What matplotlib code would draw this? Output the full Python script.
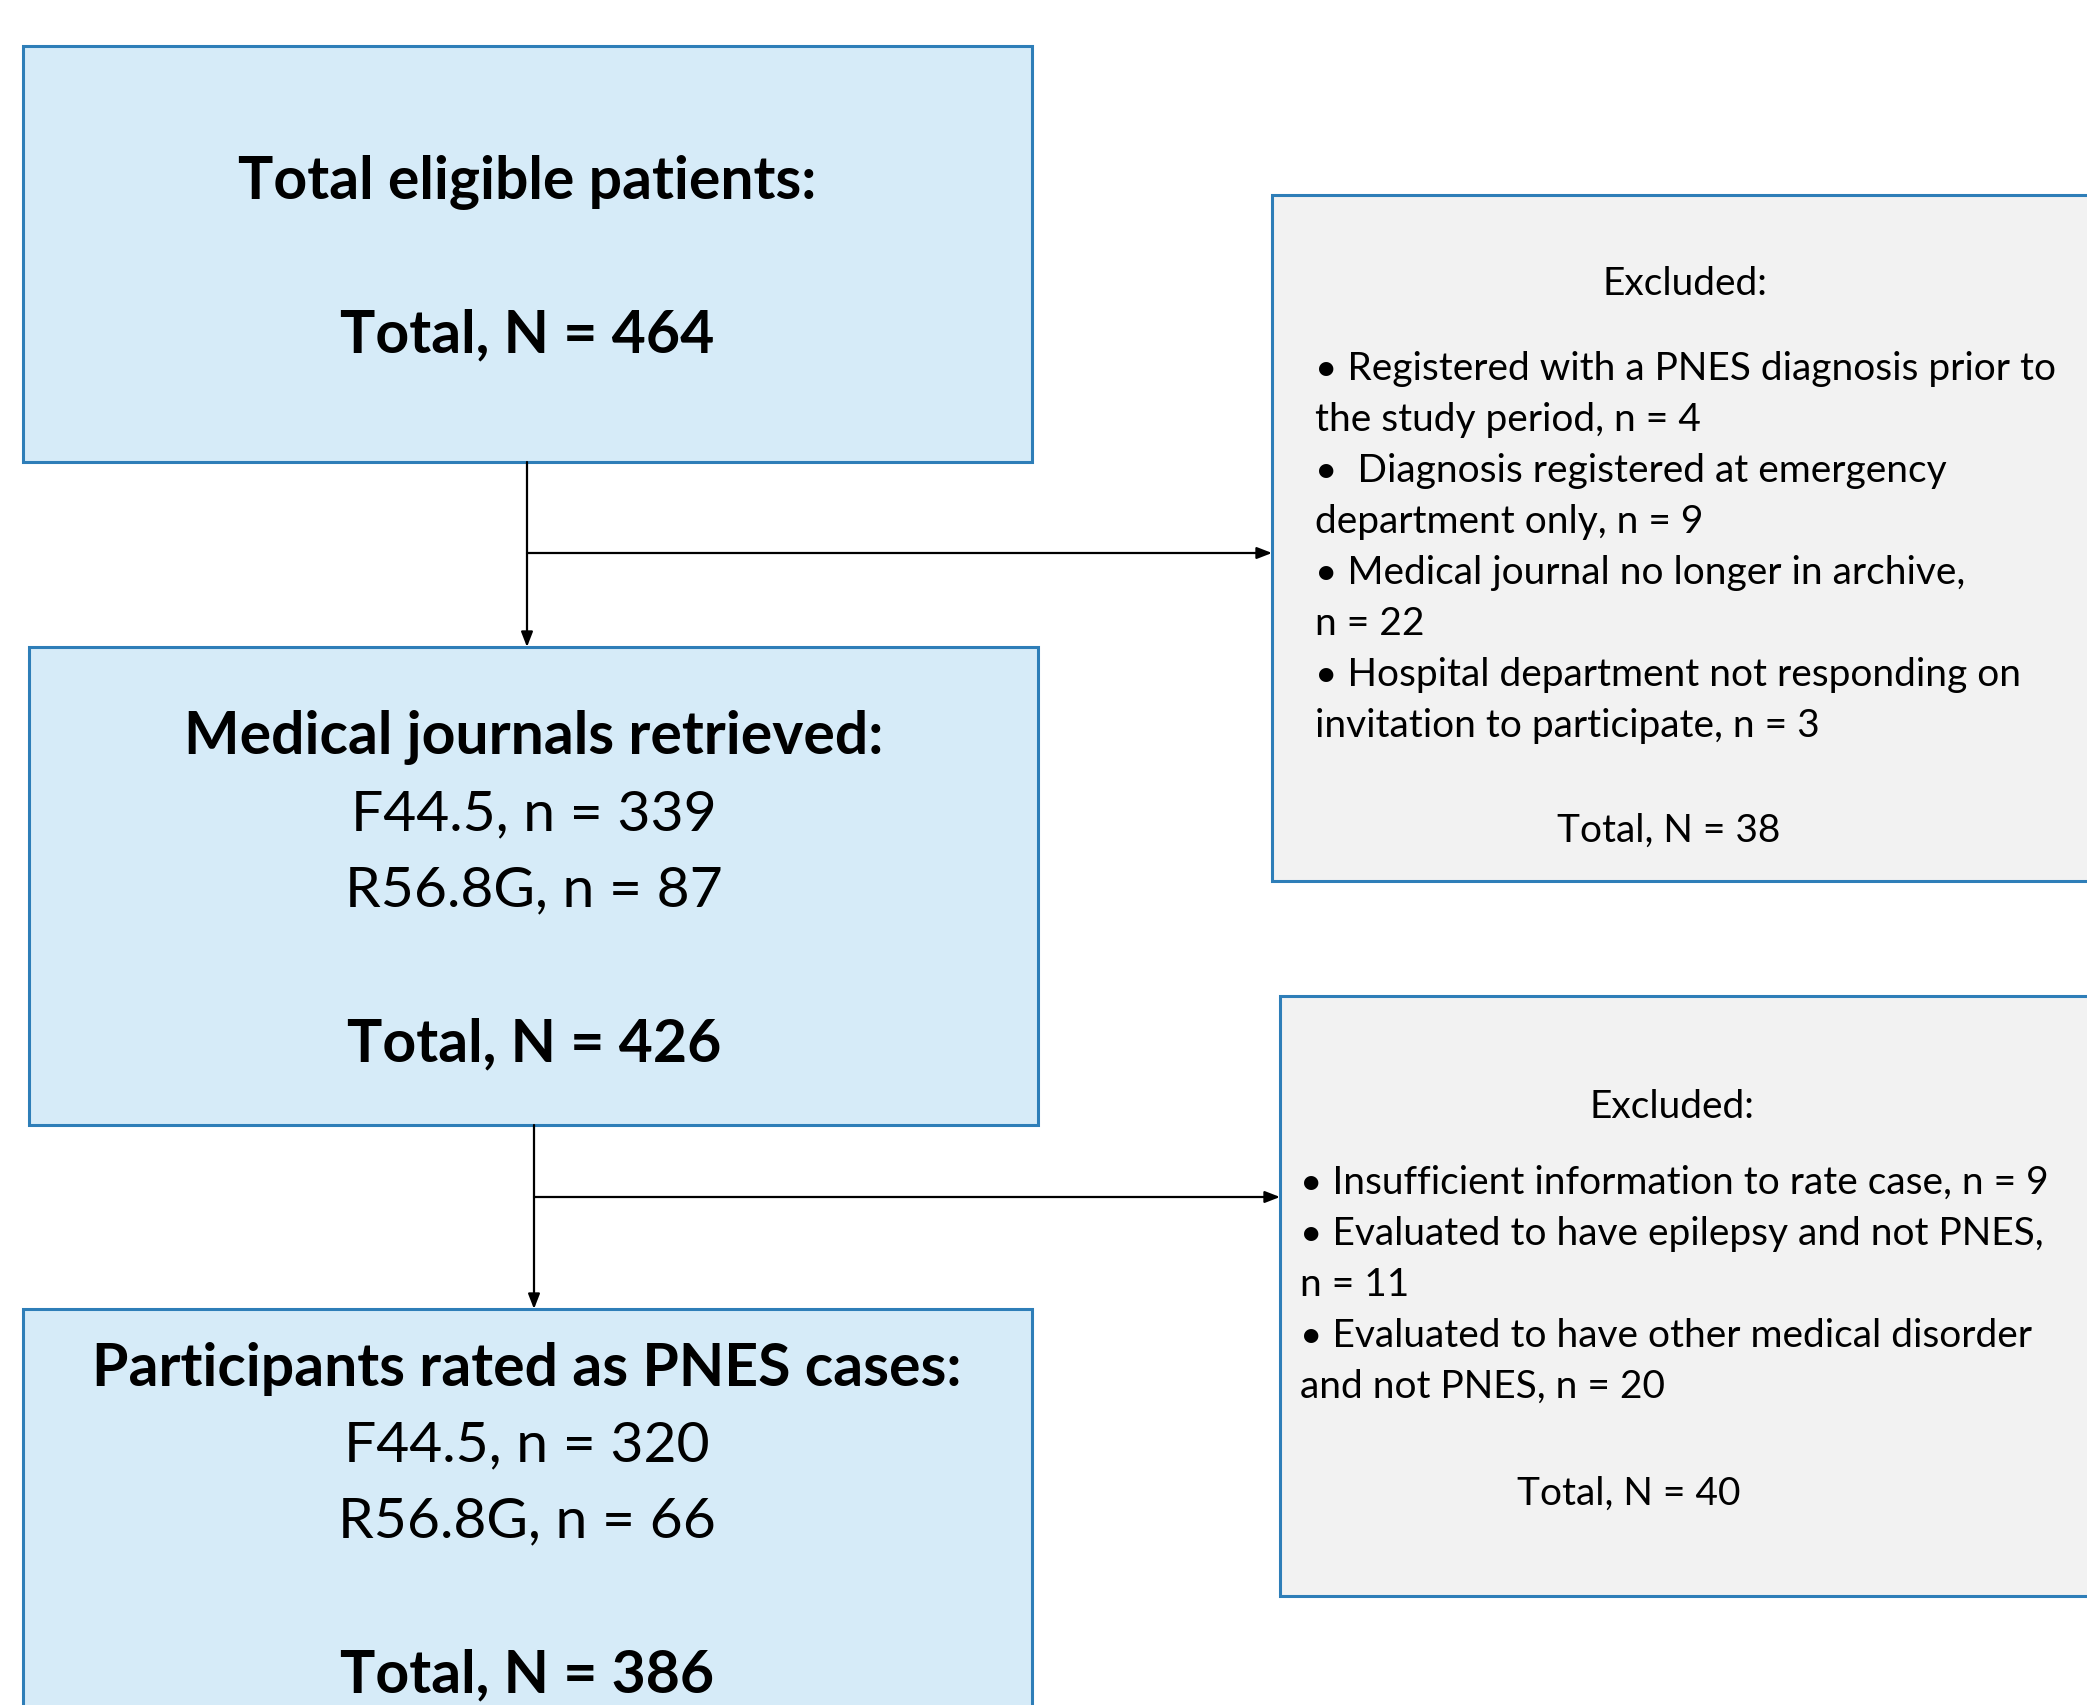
import matplotlib.pyplot as plt
import matplotlib.patches as mpatches

# ---- data -------------------------------------------------------------------
eligible_total = 464

retrieved_codes = ["F44.5", "R56.8G"]
retrieved_n = [339, 87]
retrieved_total = 426

excl1_reasons = [
    ["\u2022 Registered with a PNES diagnosis prior to", "the study period, n = 4"],
    ["\u2022  Diagnosis registered at emergency", "department only, n = 9"],
    ["\u2022 Medical journal no longer in archive,", "n = 22"],
    ["\u2022 Hospital department not responding on", "invitation to participate, n = 3"],
]
excl1_total = 38

cases_codes = ["F44.5", "R56.8G"]
cases_n = [320, 66]
cases_total = 386

excl2_reasons = [
    ["\u2022 Insufficient information to rate case, n = 9"],
    ["\u2022 Evaluated to have epilepsy and not PNES,", "n = 11"],
    ["\u2022 Evaluated to have other medical disorder", "and not PNES, n = 20"],
]
excl2_total = 40

# ---- style ------------------------------------------------------------------
W, H = 2087, 1706
BLUE_FILL = "#d6ebf8"
GREY_FILL = "#f2f2f2"
EDGE = "#2e7eb8"
FONT = "Lato"
BIG_B = 42.4   # bold headings / totals
BIG_R = 41     # code lines in main boxes
SMALL = 28

plt.rcParams["font.family"] = [FONT, "DejaVu Sans"]

fig = plt.figure(figsize=(W / 100, H / 100), dpi=100)
ax = fig.add_axes([0, 0, 1, 1])
ax.set_xlim(0, W)
ax.set_ylim(H, 0)
ax.axis("off")


def box(x0, y0, x1, y1, fill):
    ax.add_patch(mpatches.Rectangle((x0, y0), x1 - x0, y1 - y0, facecolor=fill,
                                    edgecolor=EDGE, linewidth=2.2, zorder=1))


def arrow(x0, y0, x1, y1):
    ax.annotate("", xy=(x1, y1), xytext=(x0, y0),
                arrowprops=dict(arrowstyle="-|>,head_length=0.9,head_width=0.35",
                                color="black", lw=1.6, shrinkA=0, shrinkB=0),
                zorder=3)


# main boxes
box(23, 47, 1032, 463, BLUE_FILL)
box(29, 648, 1038, 1126, BLUE_FILL)
box(23, 1310, 1032, 1760, BLUE_FILL)
# exclusion boxes
box(1272, 196, 2120, 882, GREY_FILL)
box(1280, 997, 2120, 1597, GREY_FILL)

# connectors
arrow(527, 463, 527, 648)
arrow(527, 554, 1272, 554)
arrow(534, 1126, 534, 1310)
arrow(534, 1198, 1280, 1198)

# box 1
ax.text(527, 182, "Total eligible patients:", ha="center", va="center",
        fontsize=BIG_B, fontweight="bold")
ax.text(527, 335, f"Total, N = {eligible_total}", ha="center", va="center",
        fontsize=BIG_B, fontweight="bold")

# box 2
ax.text(534, 737, "Medical journals retrieved:", ha="center", va="center",
        fontsize=BIG_B, fontweight="bold")
for k, (c, n) in enumerate(zip(retrieved_codes, retrieved_n)):
    ax.text(534, 815 + 76 * k, f"{c}, n = {n}", ha="center", va="center",
            fontsize=BIG_R)
ax.text(534, 1044, f"Total, N = {retrieved_total}", ha="center", va="center",
        fontsize=BIG_B, fontweight="bold")

# box 3
ax.text(527, 1369, "Participants rated as PNES cases:", ha="center", va="center",
        fontsize=BIG_B, fontweight="bold")
for k, (c, n) in enumerate(zip(cases_codes, cases_n)):
    ax.text(527, 1446 + 76 * k, f"{c}, n = {n}", ha="center", va="center",
            fontsize=BIG_R)
ax.text(527, 1675, f"Total, N = {cases_total}", ha="center", va="center",
        fontsize=BIG_B, fontweight="bold")


def excl_text(cx, y_head, x_left, y_first, reasons, cx_total, y_total, total):
    ax.text(cx, y_head, "Excluded:", ha="center", va="center", fontsize=SMALL)
    lines = [ln for r in reasons for ln in r]
    for k, ln in enumerate(lines):
        ax.text(x_left, y_first + 51 * k, ln, ha="left", va="center",
                fontsize=SMALL)
    ax.text(cx_total, y_total, f"Total, N = {total}", ha="center", va="center",
            fontsize=SMALL)


excl_text(1685, 284, 1315, 369, excl1_reasons, 1669, 831, excl1_total)
excl_text(1672, 1107, 1300, 1183, excl2_reasons, 1629, 1494, excl2_total)

fig.savefig("out.png", dpi=100, facecolor="white")
